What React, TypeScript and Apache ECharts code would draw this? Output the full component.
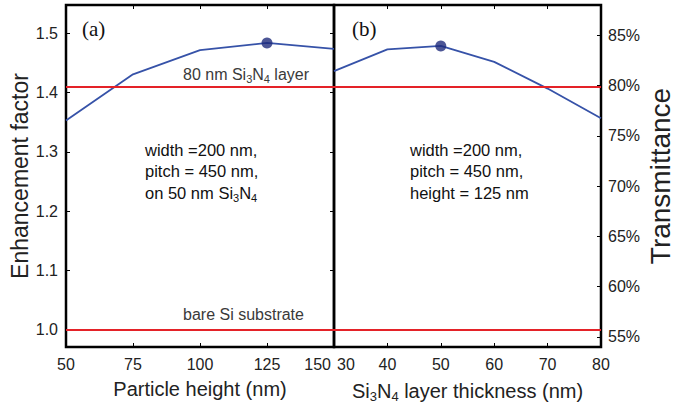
import React, { useEffect, useRef } from "react";
import * as echarts from "echarts";

// Panel (a): enhancement factor vs particle height
const heightNm = [50, 75, 100, 125, 150];
const enhancementByHeight = [1.353, 1.431, 1.472, 1.484, 1.474];

// Panel (b): enhancement factor vs Si3N4 layer thickness
const thicknessNm = [30, 40, 50, 60, 70, 80];
const enhancementByThickness = [1.4365, 1.473, 1.479, 1.452, 1.407, 1.357];

// Horizontal reference levels (bare Si substrate, 80 nm Si3N4 layer)
const referenceLevels = [1.0, 1.41];

// Axis ranges
const enhancementRange = [0.971, 1.548];
const transmittanceRange = [54, 88];

const SANS = "'Liberation Sans', Arial, sans-serif";
const NARROW = "'Liberation Sans Narrow', 'Liberation Sans', Arial, sans-serif";
const SERIF = "'Liberation Serif', 'Times New Roman', serif";

const BLUE = "#3652a8";
const DOT = "#1f2c7c";
const RED = "#e42228";

const subRich = (size: number) => ({
  sub: { fontSize: size, fontFamily: SANS, verticalAlign: "bottom", lineHeight: size },
});

function peakOf(xs: number[], ys: number[]) {
  let k = 0;
  ys.forEach((v, i) => {
    if (v > ys[k]) k = i;
  });
  return [[xs[k], ys[k]]];
}

export default function App() {
  const ref = useRef<HTMLDivElement>(null);

  useEffect(() => {
    if (!ref.current) return;
    const chart = echarts.init(ref.current, null, { renderer: "svg" });

    const tickInside = { show: true, inside: true, length: 4, lineStyle: { color: "#000", width: 1 } };
    const tickLabel = { color: "#222", fontSize: 16, fontFamily: NARROW };

    const refLines = {
      silent: true,
      symbol: "none",
      label: { show: false },
      lineStyle: { color: RED, width: 2, type: "solid" },
      data: referenceLevels.map((v) => ({ yAxis: v })),
    };

    const panel = { top: 5, height: 342, show: true, borderColor: "#000", borderWidth: 2.5, backgroundColor: "transparent", outerBoundsMode: "none" };

    const heightMax = heightNm[heightNm.length - 1];
    const thicknessMin = thicknessNm[0];

    chart.setOption({
      animation: false,
      backgroundColor: "#fff",
      grid: [
        { ...panel, left: 66, width: 268 },
        { ...panel, left: 334, width: 267 },
      ],
      xAxis: [
        {
          gridIndex: 0,
          type: "value",
          min: heightNm[0],
          max: heightMax,
          interval: 25,
          axisLine: { show: false },
          axisTick: tickInside,
          splitLine: { show: false },
          axisLabel: {
            ...tickLabel,
            margin: 9,
            alignMaxLabel: "right",
            formatter: (v: number) => (v === heightMax ? `{edge|${v}}` : `${v}`),
            rich: { edge: { fontSize: 16, fontFamily: NARROW, color: "#222", padding: [0, 3, 0, 0] } },
          },
          name: "Particle height (nm)",
          nameLocation: "middle",
          nameGap: 32,
          nameTextStyle: { fontSize: 20, fontFamily: SANS, color: "#222" },
        },
        {
          gridIndex: 0,
          type: "value",
          position: "top",
          min: heightNm[0],
          max: heightMax,
          interval: 25,
          axisLine: { show: false },
          axisTick: tickInside,
          splitLine: { show: false },
          axisLabel: { show: false },
        },
        {
          gridIndex: 1,
          type: "value",
          min: thicknessMin,
          max: thicknessNm[thicknessNm.length - 1],
          interval: 10,
          axisLine: { show: false },
          axisTick: tickInside,
          splitLine: { show: false },
          axisLabel: {
            ...tickLabel,
            margin: 9,
            alignMinLabel: "left",
            formatter: (v: number) => (v === thicknessMin ? `{edge|${v}}` : `${v}`),
            rich: { edge: { fontSize: 16, fontFamily: NARROW, color: "#222", padding: [0, 0, 0, 3] } },
          },
          name: "Si{sub|3}N{sub|4} layer thickness (nm)",
          nameLocation: "middle",
          nameGap: 32,
          nameTextStyle: { fontSize: 20, fontFamily: SANS, color: "#222", lineHeight: 24, rich: subRich(13) },
        },
        {
          gridIndex: 1,
          type: "value",
          position: "top",
          min: thicknessMin,
          max: thicknessNm[thicknessNm.length - 1],
          interval: 10,
          axisLine: { show: false },
          axisTick: tickInside,
          splitLine: { show: false },
          axisLabel: { show: false },
        },
      ],
      yAxis: [
        {
          gridIndex: 0,
          type: "value",
          min: enhancementRange[0],
          max: enhancementRange[1],
          axisLine: { show: false },
          axisTick: tickInside,
          splitLine: { show: false },
          axisLabel: {
            ...tickLabel,
            margin: 8,
            showMinLabel: false,
            showMaxLabel: false,
            formatter: (v: number) => v.toFixed(1),
          },
          name: "Enhancement factor",
          nameLocation: "middle",
          nameRotate: 90,
          nameGap: 35,
          nameTextStyle: { fontSize: 23, fontFamily: SANS, color: "#222" },
        },
        {
          gridIndex: 0,
          type: "value",
          position: "right",
          min: enhancementRange[0],
          max: enhancementRange[1],
          axisLine: { show: false },
          axisTick: tickInside,
          splitLine: { show: false },
          axisLabel: { show: false },
        },
        {
          gridIndex: 1,
          type: "value",
          min: enhancementRange[0],
          max: enhancementRange[1],
          axisLine: { show: false },
          axisTick: { show: false },
          splitLine: { show: false },
          axisLabel: { show: false },
        },
        {
          gridIndex: 1,
          type: "value",
          position: "right",
          min: transmittanceRange[0],
          max: transmittanceRange[1],
          axisLine: { show: false },
          axisTick: tickInside,
          splitLine: { show: false },
          axisLabel: {
            ...tickLabel,
            margin: 7,
            showMinLabel: false,
            showMaxLabel: false,
            formatter: "{value}%",
          },
          name: "Transmittance",
          nameLocation: "middle",
          nameRotate: 90,
          nameGap: 45,
          nameTextStyle: { fontSize: 28, fontFamily: SANS, color: "#222" },
        },
      ],
      series: [
        {
          type: "line",
          xAxisIndex: 0,
          yAxisIndex: 0,
          data: heightNm.map((x, i) => [x, enhancementByHeight[i]]),
          symbol: "none",
          lineStyle: { color: BLUE, width: 1.8 },
          markLine: refLines,
          z: 3,
        },
        {
          type: "scatter",
          xAxisIndex: 0,
          yAxisIndex: 0,
          data: peakOf(heightNm, enhancementByHeight),
          symbolSize: 11,
          itemStyle: { color: DOT },
          z: 4,
        },
        {
          type: "line",
          xAxisIndex: 2,
          yAxisIndex: 2,
          data: thicknessNm.map((x, i) => [x, enhancementByThickness[i]]),
          symbol: "none",
          lineStyle: { color: BLUE, width: 1.8 },
          markLine: refLines,
          z: 3,
        },
        {
          type: "scatter",
          xAxisIndex: 2,
          yAxisIndex: 2,
          data: peakOf(thicknessNm, enhancementByThickness),
          symbolSize: 11,
          itemStyle: { color: DOT },
          z: 4,
        },
      ],
      graphic: [
        { type: "text", x: 82, y: 29, style: { text: "(a)", font: `21px ${SERIF}`, fill: "#111", textVerticalAlign: "middle" } },
        { type: "text", x: 352, y: 29, style: { text: "(b)", font: `21px ${SERIF}`, fill: "#111", textVerticalAlign: "middle" } },
        {
          type: "text",
          x: 183,
          y: 64,
          style: {
            text: "80 nm Si{sub|3}N{sub|4} layer",
            fontSize: 16,
            fontFamily: SANS,
            fill: "#3a3a3a",
            lineHeight: 20,
            rich: subRich(11),
          },
        },
        {
          type: "text",
          x: 183,
          y: 304,
          style: { text: "bare Si substrate", fontSize: 16, fontFamily: SANS, fill: "#3a3a3a", lineHeight: 20 },
        },
        {
          type: "text",
          x: 145,
          y: 139,
          style: {
            text: "width =200 nm,\npitch = 450 nm,\non 50 nm Si{sub|3}N{sub|4}",
            fontSize: 16.5,
            fontFamily: SANS,
            fill: "#111",
            lineHeight: 21.5,
            rich: subRich(11),
          },
        },
        {
          type: "text",
          x: 410,
          y: 139,
          style: {
            text: "width =200 nm,\npitch = 450 nm,\nheight = 125 nm",
            fontSize: 16.5,
            fontFamily: SANS,
            fill: "#111",
            lineHeight: 21.5,
          },
        },
      ],
    });

    return () => chart.dispose();
  }, []);

  return <div ref={ref} style={{ width: 674, height: 404, position: "absolute", left: 0, top: 0 }} />;
}
